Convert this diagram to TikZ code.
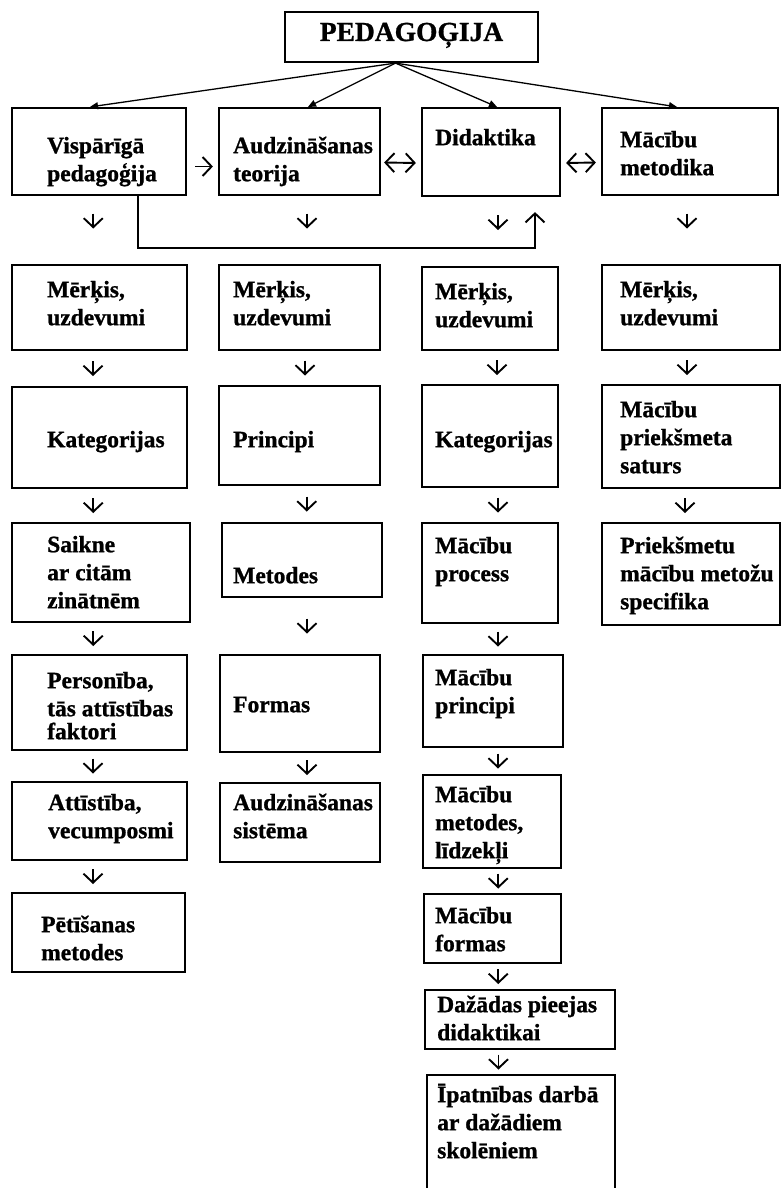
\documentclass[tikz,border=0pt]{standalone}
\usepackage{fontspec}
\setmainfont{Liberation Serif}[Ligatures=TeX, BoldFeatures={FakeBold=1}]
\usetikzlibrary{arrows.meta,calc,fit}

\tikzset{
  box/.style={draw, line width=2.2pt, inner sep=0pt},
  txt/.style={font=\bfseries\fontsize{23.5}{28}\selectfont, align=left, inner sep=0pt, anchor=north west},
  headtxt/.style={font=\bfseries\fontsize{27.5}{32}\selectfont, inner sep=0pt, anchor=base},
  barb/.tip={Straight Barb[length=9pt,width=19pt]},
  dn/.style={line width=1.9pt, -barb},
  both/.style={line width=1.9pt, barb-barb},
  fan/.style={line width=1.3pt, -{Triangle[length=8pt,width=7pt]}},
  link/.style={line width=1.3pt, -{Straight Barb[length=9pt,width=19pt,line width=1.9pt]}}
}

% box name, corners (x1,y1) (x2,y2), first baseline of its text, text
% (the strut puts the top of the text block 19.6pt above the first baseline)
\newcommand\entry[7]{%
  \node[box, fit={(#2,#3) (#4,#5)}] (#1) {};
  \node[txt] (#1t) at ($(#6)+(0,-19.6)$) {\strut #7};}

% short down arrow centred in the gap between two stacked boxes
\newcommand\dn[4][0]{%
  \draw[dn] ($(#2.south)!.5!(#3.north)+(#4,#1-7.5)$) -- ++(0,15);}

\begin{document}
\begin{tikzpicture}[x=1pt,y=-1pt]
\useasboundingbox (0,0) rectangle (782,1188);
\clip (0,0) rectangle (782,1188);

% root
\node[box, fit={(285,12) (538,62)}] (ped) {};
\node[headtxt] (pedt) at (411.5,41) {PEDAGOĢIJA};

% branches
\entry{vis}{12}{108}{186}{195}{47,153}{Vispārīgā\\pedagoģija}
\entry{aud}{219}{108}{380}{195}{233,153}{Audzināšanas\\teorija}
\entry{did}{422}{108}{560}{196}{435,145}{Didaktika}
\entry{met}{602}{108}{778}{195}{620,147}{Mācību\\metodika}

\draw[fan] ([xshift=-16pt]ped.south) -- ([xshift=-9pt]vis.north);
\draw[fan] ([xshift=-16pt]ped.south) -- ([xshift=8.5pt]aud.north);
\draw[fan] ([xshift=-16pt]ped.south) -- ([xshift=6pt]did.north);
\draw[fan] ([xshift=-16pt]ped.south) -- ([xshift=-13pt]met.north);

\draw[dn] ($(vis.east)+(8,15)$) -- ($(aud.west)+(-5,15)$);
\draw[both] ($(aud.east)+(3,11)$) -- ($(did.west)+(-5,11)$);
\draw[both] ($(did.east)+(5,11)$) -- ($(met.west)+(-5,11)$);

% general pedagogy feeds didactics
\draw[link] ([xshift=39pt]vis.south) -- ++(0,52) -| ($(did.south)+(44,15)$);

% column 1
\entry{a1}{12}{265}{187}{350}{47,297}{Mērķis,\\uzdevumi}
\entry{a2}{12}{387}{187}{488}{47,447}{Kategorijas}
\entry{a3}{12}{523}{190}{622}{47,552}{Saikne\\ar citām\\zinātnēm}
\entry{a4}{12}{655}{187}{750}{47,688}{Personība,\\tās attīstības\\[-5pt]faktori}
\entry{a5}{12}{782}{187}{860}{48,810}{Attīstība,\\vecumposmi}
\entry{a6}{12}{893}{185}{972}{41,932}{Pētīšanas\\metodes}

% column 2
\entry{b1}{219}{265}{380}{350}{233,297}{Mērķis,\\uzdevumi}
\entry{b2}{219}{386}{380}{485}{233,447}{Principi}
\entry{b3}{222}{523}{382}{597}{233,583}{Metodes}
\entry{b4}{220}{655}{380}{752}{233,712}{Formas}
\entry{b5}{220}{783}{380}{862}{233,810}{Audzināšanas\\sistēma}

% column 3
\entry{c1}{422}{267}{558}{350}{435,299}{Mērķis,\\uzdevumi}
\entry{c2}{422}{385}{558}{487}{435,447}{Kategorijas}
\entry{c3}{422}{523}{558}{623}{435,553}{Mācību\\process}
\entry{c4}{423}{655}{563}{747}{435,685}{Mācību\\principi}
\entry{c5}{423}{775}{561}{868}{435,802}{Mācību\\metodes,\\līdzekļi}
\entry{c6}{424}{894}{561}{963}{435,923}{Mācību\\formas}
\entry{c7}{425}{990}{615}{1049}{437,1012}{Dažādas pieejas\\didaktikai}
\entry{c8}{427}{1075}{615}{1205}{437,1102}{Īpatnības darbā\\ar dažādiem\\skolēniem}

% column 4
\entry{d1}{602}{265}{780}{350}{620,297}{Mērķis,\\uzdevumi}
\entry{d2}{602}{385}{780}{488}{620,417}{Mācību\\priekšmeta\\saturs}
\entry{d3}{602}{523}{780}{625}{620,553}{Priekšmetu\\mācību metožu\\specifika}

% arrows down each column
\dn[-9]{vis}{a1}{-6}
\dn[-9]{aud}{b1}{7.5}
\dn[-9]{did}{c1}{7.5}
\dn[-9]{met}{d1}{-3.5}

\dn{a1}{a2}{-6.5}
\dn{a2}{a3}{-7}
\dn{a3}{a4}{-7}
\dn{a4}{a5}{-6.5}
\dn{a5}{a6}{-6}

\dn{b1}{b2}{5.5}
\dn{b2}{b3}{6}
\dn{b3}{b4}{6}
\dn{b4}{b5}{7}

\dn{c1}{c2}{7}
\dn{c2}{c3}{8}
\dn{c3}{c4}{6.5}
\dn{c4}{c5}{5.5}
\dn{c5}{c6}{6}
\dn{c6}{c7}{-8}
\dn{c7}{c8}{-22}

\dn{d1}{d2}{-4}
\dn{d2}{d3}{-6}
\end{tikzpicture}
\end{document}
